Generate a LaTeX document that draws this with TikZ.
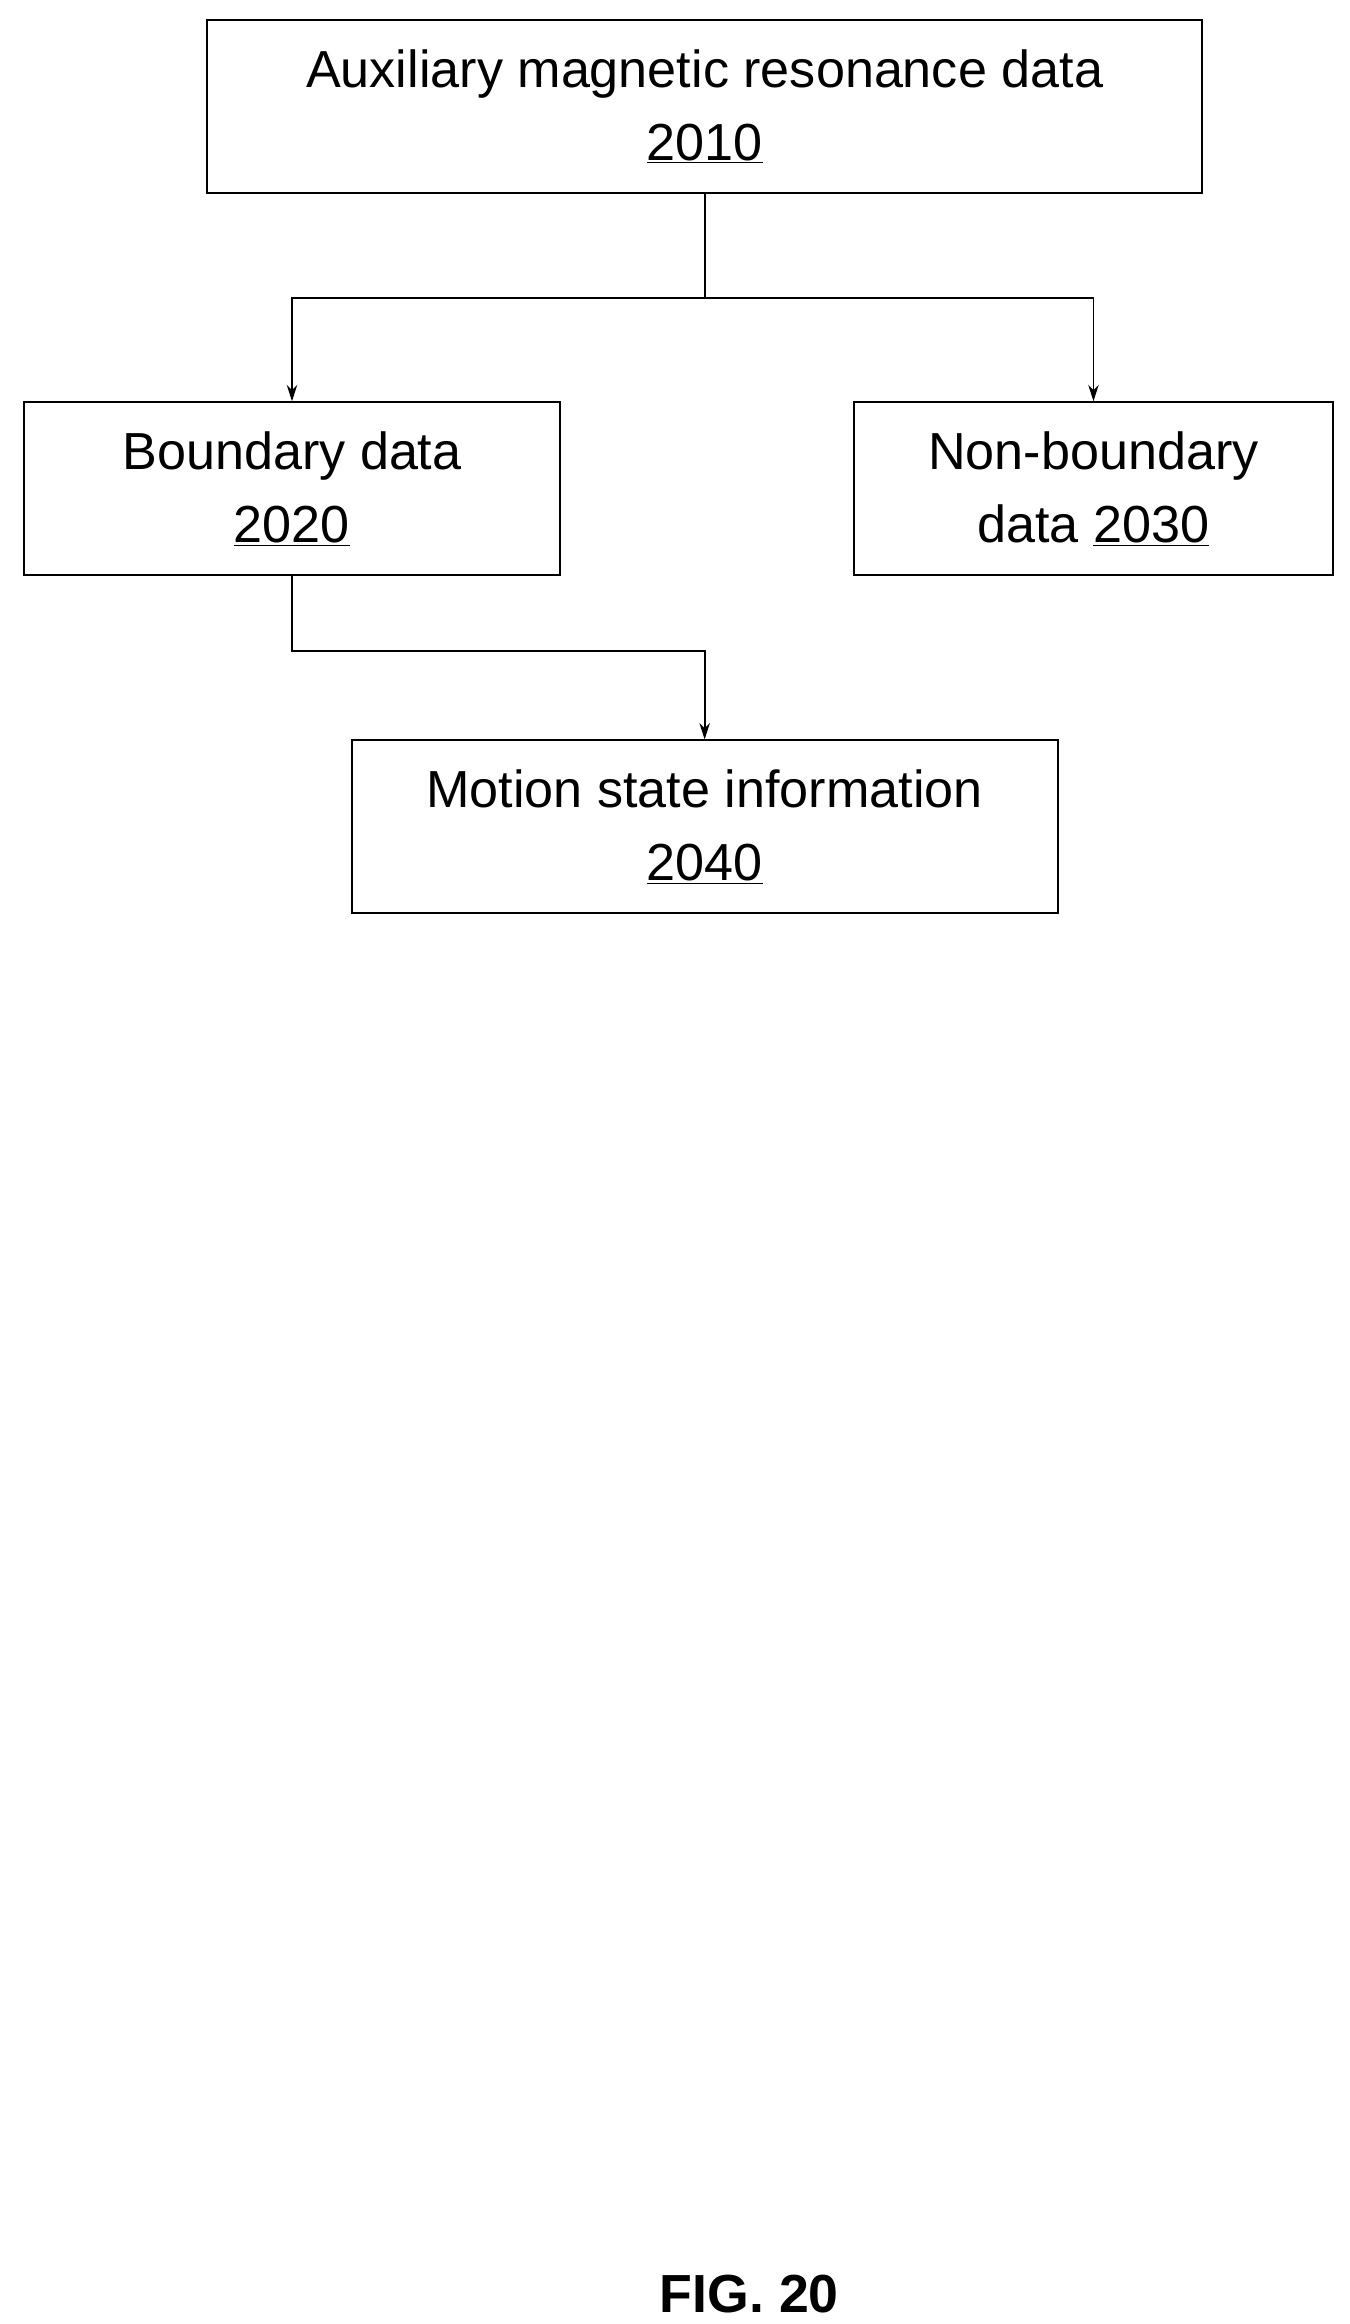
\documentclass[tikz,border=0pt]{standalone}
\usepackage{fontspec}
\setmainfont{Liberation Sans}
\usetikzlibrary{arrows.meta, positioning}

\begin{document}
\begin{tikzpicture}[x=1pt, y=-1pt, >={Stealth[length=11pt,width=7pt]}, line width=1.3pt,
    databox/.style={rectangle, draw, align=center, minimum height=116pt, inner sep=0pt,
        font=\fontsize{35}{49}\selectfont}]
        \useasboundingbox (0,0) rectangle (906,1560);
        \node[databox, minimum width=668pt] (aux) at (473,71.5) {Auxiliary magnetic resonance data\\\underline{2010}};
        \node[databox, minimum width=360pt] (bnd) at (196,328) {Boundary data\\\underline{2020}};
        \node[databox, minimum width=322pt] (nbd) at (734,328) {Non-boundary\\data \underline{2030}};
        \node[databox, minimum width=474pt] (mot) at (473,555) {Motion state information\\\underline{2040}};
        \node[font=\fontsize{36}{40}\selectfont\bfseries] (fig) at (503,1540) {FIG. 20};

        \coordinate (split) at (473,200);
        \coordinate (join) at (473,437);
        \draw (aux.south) -- (split);
        \draw[->] (split) -| (bnd.north);
        \draw[->] (split) -| (nbd.north);
        \draw[->] (bnd.south) |- (join) -- (mot.north);
    \end{tikzpicture}
\end{document}
